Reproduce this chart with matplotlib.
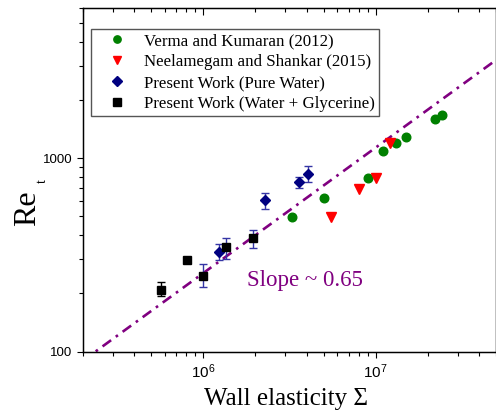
import numpy as np
import matplotlib
matplotlib.use("Agg")
import matplotlib.pyplot as plt
from matplotlib.ticker import LogLocator, FuncFormatter, NullFormatter, FixedLocator

plt.rcParams['mathtext.fontset'] = 'custom'
plt.rcParams['mathtext.rm'] = 'Liberation Serif'
plt.rcParams['mathtext.it'] = 'Liberation Serif:italic'
plt.rcParams['mathtext.sf'] = 'Liberation Sans'

# ---- data ----
verma_x = [3.28e6, 4.99e6, 9.02e6, 1.11e7, 1.31e7, 1.51e7, 2.21e7, 2.41e7]
verma_y = [495, 624, 793, 1092, 1196, 1295, 1592, 1683]

neel_x = [5.52e6, 8.0e6, 1.01e7, 1.21e7]
neel_y = [495, 695, 788, 1201]

pure_x = [1.23e6, 2.28e6, 3.61e6, 4.04e6]
pure_y = [329, 610, 752, 830]
pure_lo = [296, 548, 703, 752]
pure_hi = [361, 659, 804, 917]

gly_x = [5.73e5, 8.04e5, 1.0e6, 1.355e6, 1.94e6]
gly_y = [209, 296, 247, 347, 385]
gly_lo = [193, np.nan, 215, 302, 344]
gly_hi = [228, np.nan, 284, 387, 428]

slope = 0.65
fit_x0 = 2.38e5   # Re_t = 100 at this Sigma
fit_y0 = 100
fit_xrange = [2e5, 5e7]

labels = ["Verma and Kumaran (2012)", "Neelamegam and Shankar (2015)",
          "Present Work (Pure Water)", "Present Work (Water + Glycerine)"]

W, H = 496, 415
fig = plt.figure(figsize=(W / 100, H / 100), dpi=100)
left, right, top, bottom = 82.5, 496.2, 8.0, 351.5
ax = fig.add_axes([left / W, 1 - bottom / H, (right - left) / W, (bottom - top) / H])
ax.set_xscale('log')
ax.set_yscale('log')
ax.set_xlim(2e5, 5e7)
ax.set_ylim(100, 6000)

# fit line
fx = np.array(fit_xrange)
fy = fit_y0 * (fx / fit_x0) ** slope
ax.plot(fx, fy, color='#800080', lw=1.9, linestyle=(0, (4.0, 2.2, 1.0, 2.2)), zorder=2)

ecol_blue = '#3535a5'
# error bars
ax.errorbar(pure_x, pure_y,
            yerr=[np.array(pure_y) - np.array(pure_lo), np.array(pure_hi) - np.array(pure_y)],
            fmt='none', ecolor=ecol_blue, elinewidth=1.0, capsize=3, capthick=1.0, zorder=3)
gy = np.array(gly_y, float)
glo = np.array(gly_lo, float)
ghi = np.array(gly_hi, float)
gx = np.array(gly_x)
m_black = np.zeros(len(gx), bool); m_black[0] = True
m_blue = ~m_black & ~np.isnan(glo)
ax.errorbar(gx[m_black], gy[m_black], yerr=[gy[m_black] - glo[m_black], ghi[m_black] - gy[m_black]],
            fmt='none', ecolor='black', elinewidth=1.0, capsize=3, capthick=1.0, zorder=3)
ax.errorbar(gx[m_blue], gy[m_blue], yerr=[gy[m_blue] - glo[m_blue], ghi[m_blue] - gy[m_blue]],
            fmt='none', ecolor=ecol_blue, elinewidth=1.0, capsize=3, capthick=1.0, zorder=3)

ax.plot(verma_x, verma_y, 'o', color='#008000', ms=6.2, mec='#008000', label=labels[0], zorder=4)
ax.plot(neel_x, neel_y, 'v', color='#ff0000', ms=7, mec='#ff0000', label=labels[1], zorder=4)
ax.plot(pure_x, pure_y, 'D', color='#000080', ms=5.5, mec='#000080', label=labels[2], zorder=4)
ax.plot(gly_x, gly_y, 's', color='black', ms=6.2, mec='black', label=labels[3], zorder=4)

# ticks
ax.xaxis.set_major_locator(LogLocator(base=10, numticks=10))
ax.xaxis.set_minor_locator(LogLocator(base=10, subs=np.arange(2, 10), numticks=20))
ax.xaxis.set_major_formatter(FuncFormatter(lambda v, p: r'$\mathsf{10^{%d}}$' % round(np.log10(v))))
ax.xaxis.set_minor_formatter(NullFormatter())
ax.yaxis.set_major_locator(FixedLocator([100, 1000]))
ax.yaxis.set_minor_locator(LogLocator(base=10, subs=np.arange(2, 10), numticks=20))
ax.yaxis.set_major_formatter(FuncFormatter(lambda v, p: '%d' % round(v)))
ax.yaxis.set_minor_formatter(NullFormatter())
ax.tick_params(which='major', direction='out', length=4.5, width=0.8, labelsize=9.5,
               labelfontfamily='Liberation Sans', pad=3)
ax.tick_params(which='minor', direction='out', length=2.7, width=0.8)
ax.tick_params(axis='x', which='major', labelsize=11)
for s in ax.spines.values():
    s.set_linewidth(1.0)

tw = ax.twiny()
tw.set_xscale('log')
tw.set_xlim(ax.get_xlim())
tw.xaxis.set_major_locator(LogLocator(base=10, numticks=10))
tw.xaxis.set_minor_locator(LogLocator(base=10, subs=np.arange(2, 10), numticks=20))
tw.xaxis.set_major_formatter(NullFormatter())
tw.xaxis.set_minor_formatter(NullFormatter())
tw.tick_params(which='major', direction='in', length=5, width=0.8)
tw.tick_params(which='minor', direction='in', length=3, width=0.8)

ax.set_xlabel('Wall elasticity Σ', fontfamily='Liberation Serif', fontsize=18)
ax.xaxis.set_label_coords(0.492, -0.105)

# y label "Re" with a lowered small subscript "t"
fig.text(35 / W, 1 - 208.5 / H, 'Re', rotation=90, rotation_mode='anchor',
         ha='center', va='baseline', fontfamily='Liberation Serif', fontsize=23)
fig.text(46 / W, 1 - 181.5 / H, 't', rotation=90, rotation_mode='anchor',
         ha='center', va='baseline', fontfamily='Liberation Serif', fontsize=10)

ax.text(0.397, 0.208, 'Slope ~ 0.65', transform=ax.transAxes, color='#800080',
        fontfamily='Liberation Serif', fontsize=16.5, ha='left', va='center')

leg = ax.legend(loc='upper left', bbox_to_anchor=(0.0198, 0.939), borderaxespad=0,
                prop={'family': 'Liberation Serif', 'size': 12.2}, frameon=True, fancybox=False,
                edgecolor='#555555', framealpha=1, handlelength=2.6, handletextpad=0.3,
                labelspacing=0.3, borderpad=0.24, markerscale=0.85)
leg.get_frame().set_linewidth(1.0)

fig.savefig('out.png', dpi=100)
